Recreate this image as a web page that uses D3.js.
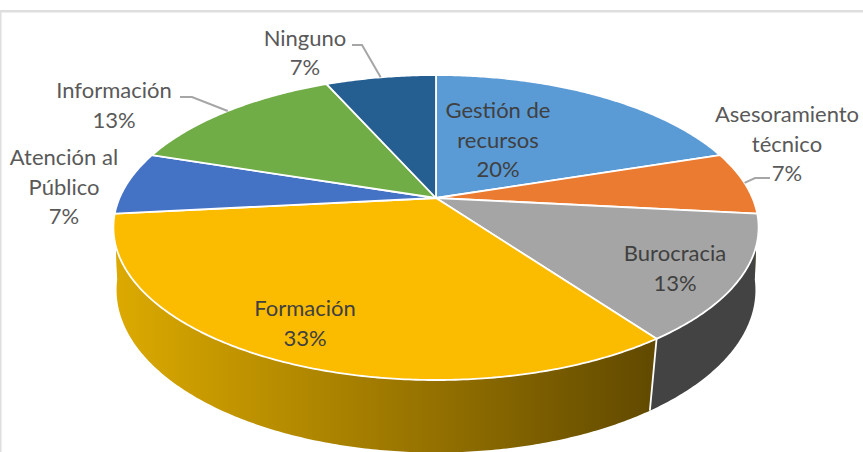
<!DOCTYPE html>
<html>
<head>
<meta charset="utf-8">
<script src="https://cdn.jsdelivr.net/npm/d3@7/dist/d3.min.js"></script>
<style>
html,body{margin:0;padding:0;background:#fff;overflow:hidden}
svg{display:block}
text{font-family:Lato,"Noto Sans",sans-serif;font-size:22px;text-anchor:middle}
</style>
</head>
<body>
<svg id="chart" width="863" height="452"></svg>
<script>
// Data (labels show the rounded shares of these counts)
const categories = ["Gestión de recursos","Asesoramiento técnico","Burocracia","Formación","Atención al Público","Información","Ninguno"];
const values = [3,1,2,5,1,2,1];
const colors = ["#5b9bd5","#eb7b30","#a5a5a5","#fbbc00","#4472c4","#70ad47","#255e91"];
const wallColors = [null,null,"#434343",null,null,null,null];
const labelLines = [["Gestión de","recursos"],["Asesoramiento","técnico"],["Burocracia"],["Formación"],["Atención al","Público"],["Información"],["Ninguno"]];

// Layout
const W = 863, H = 452, lineH = 29.5;
const labelAnchor = [[498,111],[787,115],[675,254],[305,309],[64,158],[114,91],[305,38.5]].map(([x,y])=>({x,y}));
const labelColor = ["#404040","#595959","#404040","#404040","#595959","#595959","#595959"];
const leaderStart = {1:{x:770,y:178,dir:-1,run:15},5:{x:180,y:97,dir:1,run:12},6:{x:352,y:45,dir:1,run:10}};

// Perspective discs (angle 0 = 12 o'clock, far side)
const topDisc = {cx:436,cy:198,a:316.5,b:146.8,p:0.1935};
const botDisc = {cx:436,cy:263,a:315,b:158,p:0.166};
const project = (d,t)=>{
  const w = 1 + d.p*Math.cos(t);
  return [d.cx + d.a*Math.sin(t)/w, d.cy - d.b*Math.cos(t)/w];
};
const arcPts = (d,t0,t1,step=0.01)=>{
  const n = Math.max(2,Math.ceil(Math.abs(t1-t0)/step));
  return d3.range(n+1).map(i=>project(d,t0+(t1-t0)*i/n));
};
const line = d3.line();

const svg = d3.select("#chart");
svg.append("rect").attr("width",W).attr("height",H).attr("fill","#fff");
svg.append("rect").attr("x",0).attr("y",10).attr("width",W).attr("height",2.5).attr("fill","#dedede");
svg.append("rect").attr("x",0).attr("y",10).attr("width",1.5).attr("height",H-10).attr("fill","#dedede");

const defs = svg.append("defs");
const grad = defs.append("linearGradient").attr("id","wallYellow")
  .attr("gradientUnits","userSpaceOnUse").attr("x1",114).attr("x2",650).attr("y1",0).attr("y2",0);
grad.append("stop").attr("offset",0).attr("stop-color","#dcaa00");
grad.append("stop").attr("offset",0.45).attr("stop-color","#a67f00");
grad.append("stop").attr("offset",1).attr("stop-color","#624a00");

const arcs = d3.pie().value(d=>d).sort(null).startAngle(0).endAngle(2*Math.PI)(values);

// Side walls: only the slices that reach the near side
const walls = svg.append("g");
arcs.forEach((a,i)=>{
  const t0 = Math.max(a.startAngle,Math.PI/2), t1 = Math.min(a.endAngle,3*Math.PI/2);
  if(t1<=t0) return;
  const pts = arcPts(topDisc,t0,t1).concat(arcPts(botDisc,t1,t0));
  walls.append("path").attr("d",line(pts)+"Z")
    .attr("fill",wallColors[i] || "url(#wallYellow)");
});
const split = arcs[2].endAngle;
walls.append("path").attr("d",line([project(topDisc,split),project(botDisc,split)]))
  .attr("stroke","#fff").attr("stroke-width",1.8).attr("fill","none");

// Top face
const face = svg.append("g");
arcs.forEach((a,i)=>{
  const pts = arcPts(topDisc,a.startAngle,a.endAngle);
  face.append("path")
    .attr("d",line([[topDisc.cx,topDisc.cy]].concat(pts))+"Z")
    .attr("fill",colors[i]).attr("stroke","#fff").attr("stroke-width",1.8).attr("stroke-linejoin","round");
});

// Leader lines
Object.entries(leaderStart).forEach(([k,s])=>{
  const a = arcs[+k];
  const end = project(topDisc,(a.startAngle+a.endAngle)/2);
  svg.append("path")
    .attr("d",line([[s.x,s.y],[s.x+s.dir*s.run,s.y],end]))
    .attr("fill","none").attr("stroke","#a6a6a6").attr("stroke-width",2);
});

// Labels
const total = d3.sum(values);
categories.forEach((c,i)=>{
  const rows = labelLines[i].concat([d3.format(".0%")(values[i]/total)]);
  const t = svg.append("text").attr("fill",labelColor[i]);
  rows.forEach((r,j)=>{
    t.append("tspan").attr("x",labelAnchor[i].x).attr("y",labelAnchor[i].y+7+j*lineH).text(r);
  });
});
</script>
</body>
</html>
